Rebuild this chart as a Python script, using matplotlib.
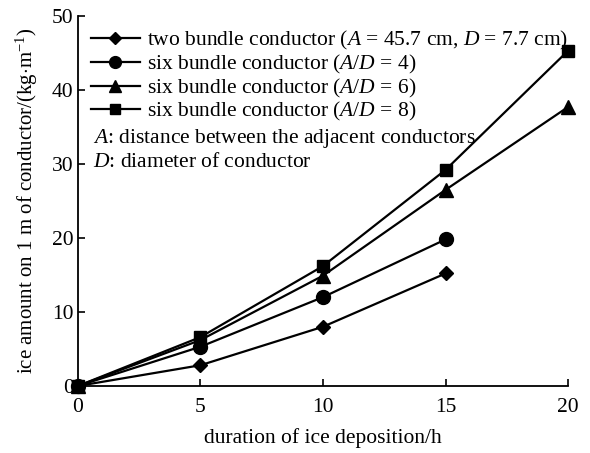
import matplotlib
matplotlib.use('Agg')
import matplotlib.pyplot as plt

plt.rcParams['font.family'] = 'Liberation Serif'
plt.rcParams['mathtext.fontset'] = 'custom'
plt.rcParams['mathtext.rm'] = 'Liberation Serif'
plt.rcParams['mathtext.it'] = 'Liberation Serif:italic'

hours = [0, 5, 10, 15, 20]

two_bundle = [0, 2.8, 8.0, 15.2]
six_ad4 = [0, 5.3, 12.0, 19.8]
six_ad6 = [0, 6.2, 14.9, 26.5, 37.7]
six_ad8 = [0, 6.6, 16.2, 29.2, 45.3]

labels = [
    'two bundle conductor ($A$ = 45.7 cm, $D$ = 7.7 cm)',
    'six bundle conductor ($A$/$D$ = 4)',
    'six bundle conductor ($A$/$D$ = 6)',
    'six bundle conductor ($A$/$D$ = 8)',
]

fig = plt.figure(figsize=(5.9, 4.53), dpi=100)
ax = fig.add_axes([0.132, 0.148, 0.831, 0.817])

kw = dict(color='black', lw=1.6, clip_on=False)
ax.plot(hours[:4], two_bundle, marker='D', ms=7.5, label=labels[0], **kw)
ax.plot(hours[:4], six_ad4, marker='o', ms=10, label=labels[1], **kw)
ax.plot(hours, six_ad6, marker='^', ms=10, label=labels[2], **kw)
ax.plot(hours, six_ad8, marker='s', ms=8.5, label=labels[3], **kw)

ax.set_xlim(0, 20)
ax.set_ylim(0, 50)
ax.set_xticks([0, 5, 10, 15, 20])
ax.set_yticks([0, 10, 20, 30, 40, 50])
ax.tick_params(direction='in', length=5, width=1.2, labelsize=15.5)
ax.tick_params(axis='x', pad=9)
ax.tick_params(axis='y', pad=3)
for s in ['top', 'right']:
    ax.spines[s].set_visible(False)
for s in ['left', 'bottom']:
    ax.spines[s].set_linewidth(1.3)

ax.set_xlabel('duration of ice deposition/h', fontsize=15.5, labelpad=8)
ax.set_ylabel('ice amount on 1 m of conductor/(kg$\\cdot$m$^{-1}$)', fontsize=15)
ax.yaxis.set_label_coords(-0.078, 0.5)

# smaller markers in the key than on the curves
leg = ax.legend(loc='upper left', bbox_to_anchor=(0.026, 0.964), frameon=False, fontsize=15.5,
                handlelength=2.3, handletextpad=0.3, labelspacing=0.03, borderaxespad=0,
                borderpad=0, markerscale=0.85)

ax.text(0.031, 0.668, '$A$: distance between the adjacent conductors', transform=ax.transAxes,
        fontsize=15.5, va='center')
ax.text(0.031, 0.603, '$D$: diameter of conductor', transform=ax.transAxes,
        fontsize=15.5, va='center')

fig.savefig('out.png', dpi=100)
